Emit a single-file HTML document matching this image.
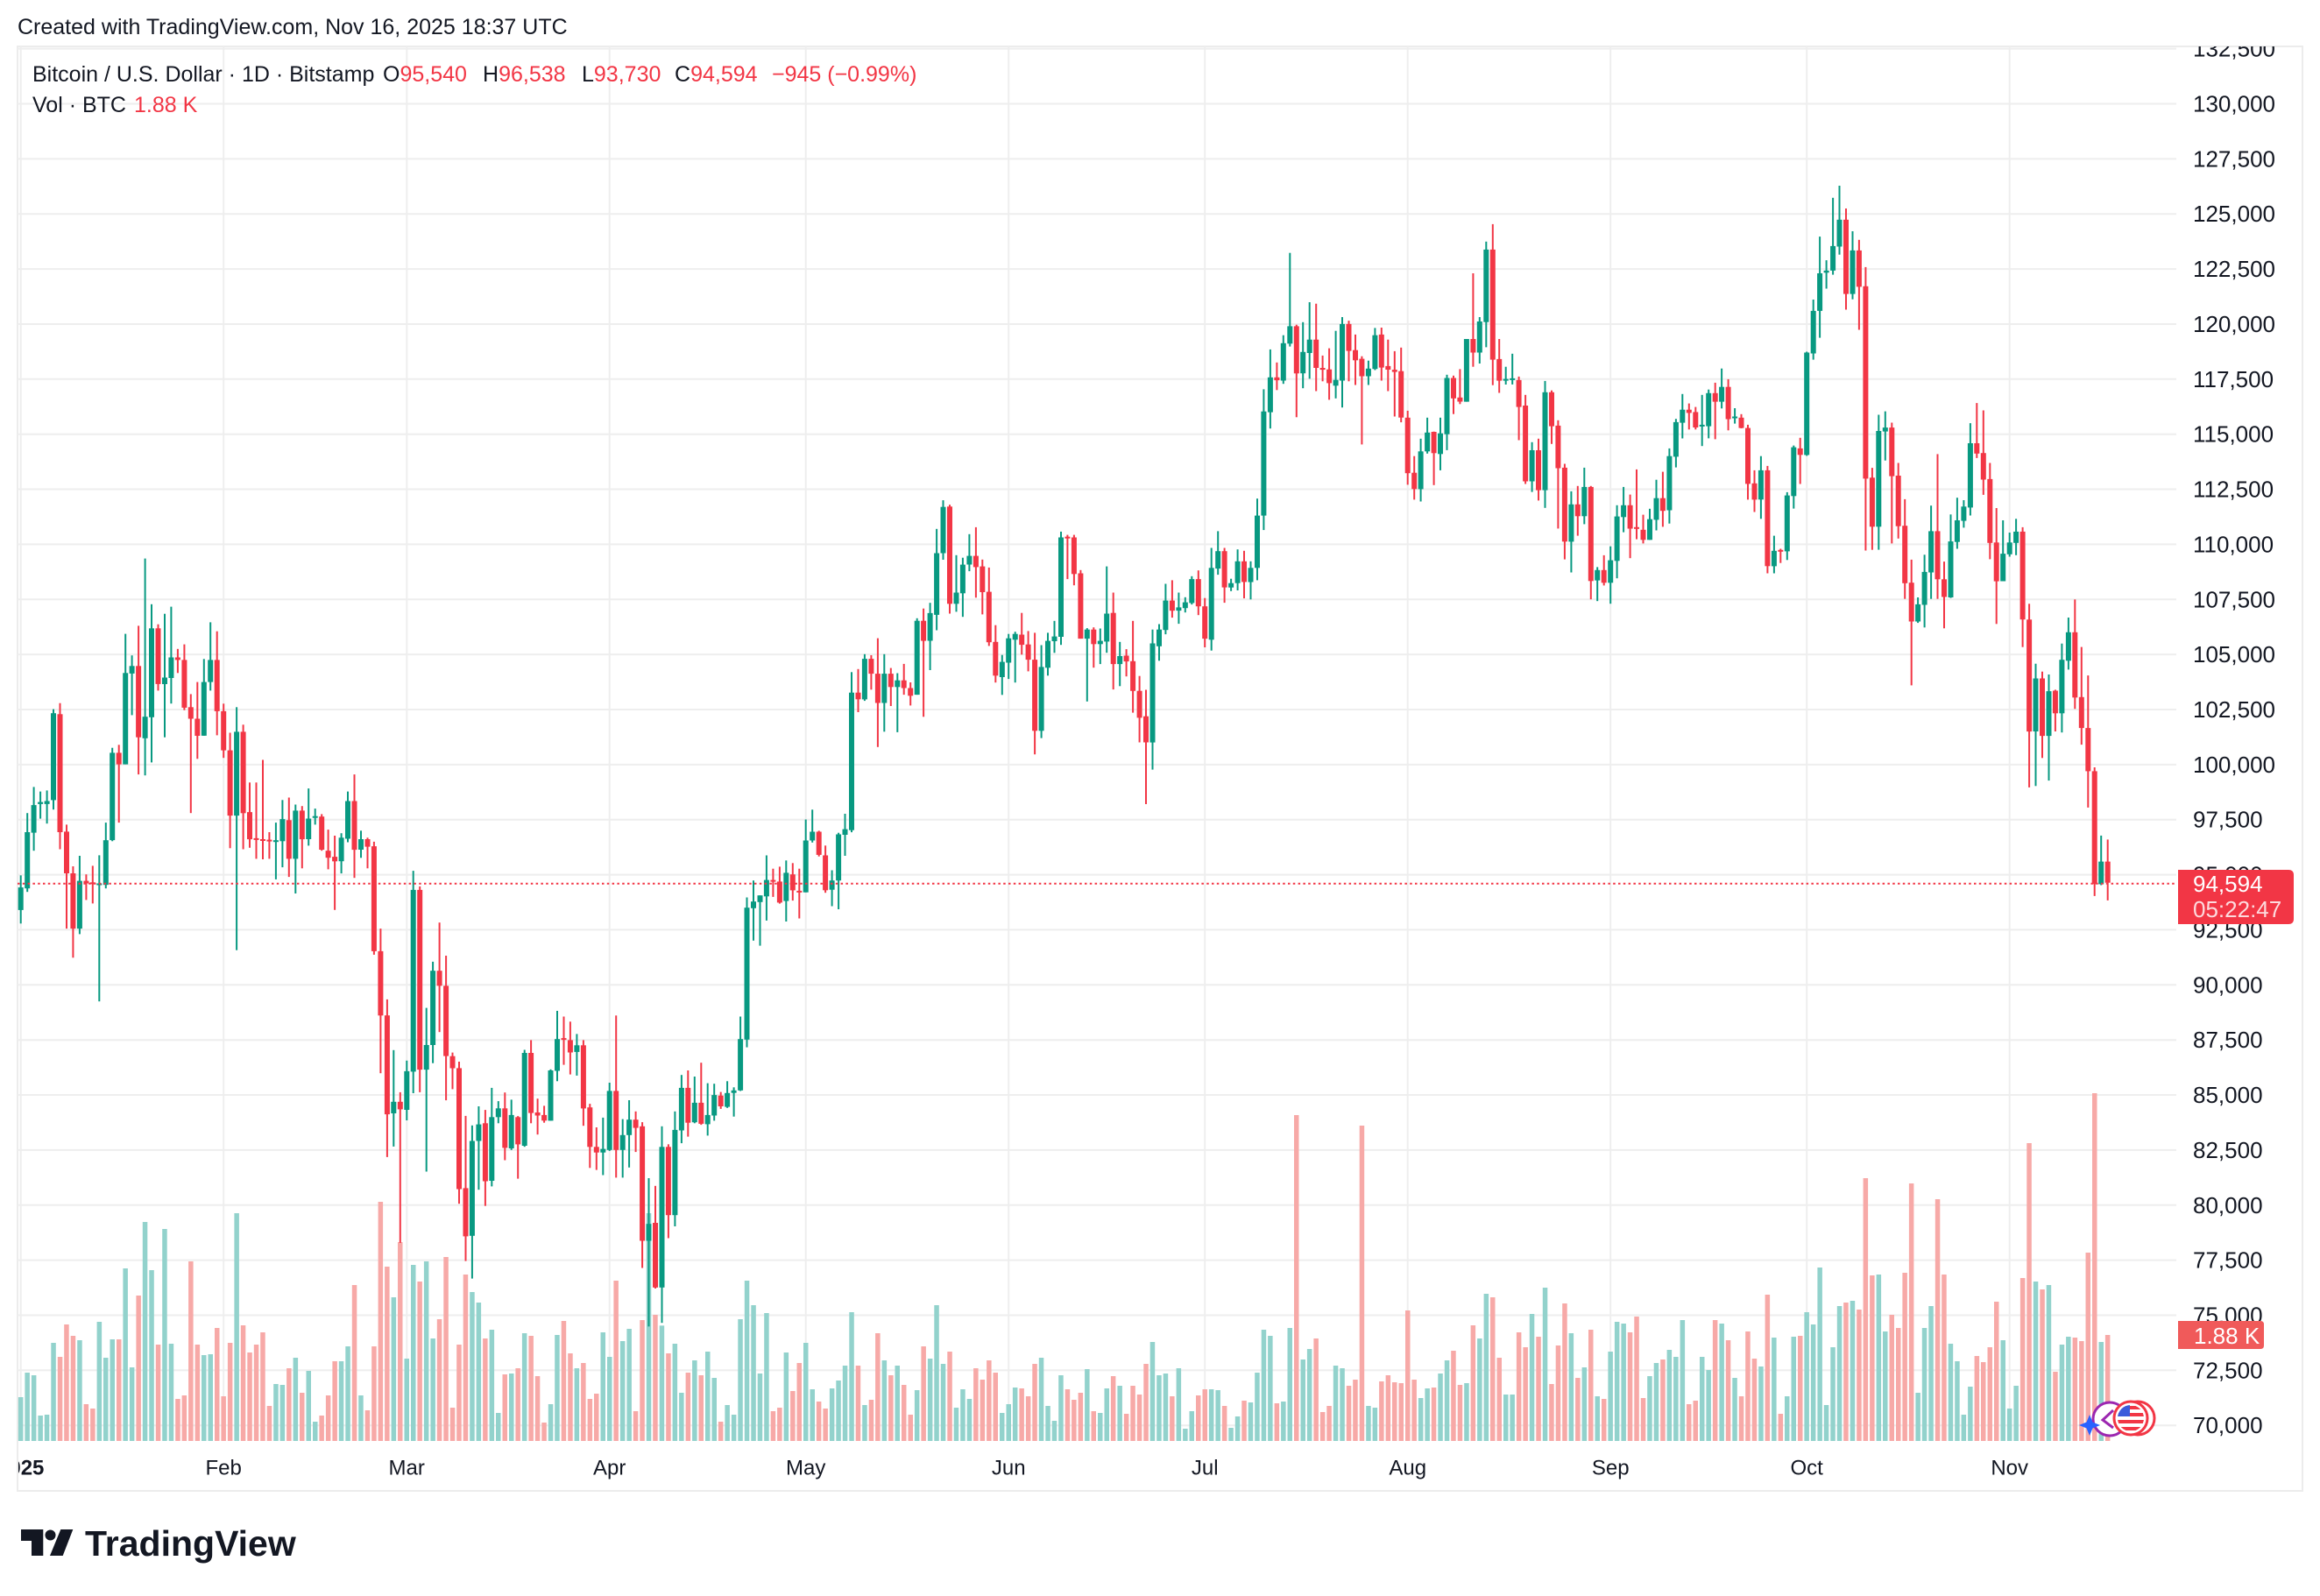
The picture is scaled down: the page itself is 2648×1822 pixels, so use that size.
<!DOCTYPE html>
<html><head><meta charset="utf-8">
<style>
html,body{margin:0;padding:0;background:#fff;}
svg{display:block;}
text{font-family:"Liberation Sans",Arial,sans-serif;}
</style></head><body>
<svg id="s" xmlns="http://www.w3.org/2000/svg" width="2648" height="1822" viewBox="0 0 2648 1822">
<defs>
<clipPath id="plot"><rect x="20" y="53" width="2464" height="1592"/></clipPath>
<clipPath id="frame"><rect x="21" y="53" width="2606" height="1648"/></clipPath>
<clipPath id="flagc"><circle cx="2432" cy="1619" r="15"/></clipPath>
</defs>
<rect width="2648" height="1822" fill="#fff"/>
<text x="20" y="31" font-size="25" fill="#131722" dominant-baseline="central">Created with TradingView.com, Nov 16, 2025 18:37 UTC</text>
<rect x="20" y="53" width="2608" height="1649" fill="none" stroke="#ececec" stroke-width="2"/>
<g id="grid" stroke="#eeeeee" stroke-width="2" clip-path="url(#plot)"></g>
<g clip-path="url(#plot)">
<g id="vol"></g>
<g id="cdl"></g>
<line x1="20" y1="1008.8" x2="2484" y2="1008.8" stroke="#f23645" stroke-width="2" stroke-dasharray="2.5 3.3"/>
</g>
<!-- price axis -->
<g clip-path="url(#frame)" font-size="26" fill="#131722">
<text x="2503" y="55.6" dominant-baseline="central">132,500</text>
<text x="2503" y="118.5" dominant-baseline="central">130,000</text>
<text x="2503" y="181.4" dominant-baseline="central">127,500</text>
<text x="2503" y="244.2" dominant-baseline="central">125,000</text>
<text x="2503" y="307.1" dominant-baseline="central">122,500</text>
<text x="2503" y="370" dominant-baseline="central">120,000</text>
<text x="2503" y="432.8" dominant-baseline="central">117,500</text>
<text x="2503" y="495.7" dominant-baseline="central">115,000</text>
<text x="2503" y="558.5" dominant-baseline="central">112,500</text>
<text x="2503" y="621.4" dominant-baseline="central">110,000</text>
<text x="2503" y="684.3" dominant-baseline="central">107,500</text>
<text x="2503" y="747.1" dominant-baseline="central">105,000</text>
<text x="2503" y="810" dominant-baseline="central">102,500</text>
<text x="2503" y="872.9" dominant-baseline="central">100,000</text>
<text x="2503" y="935.7" dominant-baseline="central">97,500</text>
<text x="2503" y="998.6" dominant-baseline="central">95,000</text>
<text x="2503" y="1061.4" dominant-baseline="central">92,500</text>
<text x="2503" y="1124.3" dominant-baseline="central">90,000</text>
<text x="2503" y="1187.2" dominant-baseline="central">87,500</text>
<text x="2503" y="1250" dominant-baseline="central">85,000</text>
<text x="2503" y="1312.9" dominant-baseline="central">82,500</text>
<text x="2503" y="1375.8" dominant-baseline="central">80,000</text>
<text x="2503" y="1438.6" dominant-baseline="central">77,500</text>
<text x="2503" y="1501.5" dominant-baseline="central">75,000</text>
<text x="2503" y="1564.3" dominant-baseline="central">72,500</text>
<text x="2503" y="1627.2" dominant-baseline="central">70,000</text>
</g>
<!-- current price label -->
<path d="M2486 993 H2612 Q2618 993 2618 999 V1049 Q2618 1055 2612 1055 H2486 Z" fill="#f23645"/>
<text x="2503" y="1009" font-size="26" fill="#fff" dominant-baseline="central">94,594</text>
<text x="2503" y="1038" font-size="26" fill="#fff" fill-opacity="0.82" dominant-baseline="central">05:22:47</text>
<!-- volume label -->
<path d="M2486 1508 H2580 Q2584 1508 2584 1512 V1536 Q2584 1540 2580 1540 H2486 Z" fill="#f05a5a"/>
<text x="2504" y="1525" font-size="26" fill="#fff" dominant-baseline="central">1.88 K</text>
<!-- time axis -->
<g font-size="24" fill="#131722" text-anchor="middle" clip-path="url(#frame)">
<text x="23.7" y="1676" font-weight="bold" dominant-baseline="central">2025</text>
<text x="255.2" y="1676" dominant-baseline="central">Feb</text>
<text x="464.2" y="1676" dominant-baseline="central">Mar</text>
<text x="695.7" y="1676" dominant-baseline="central">Apr</text>
<text x="919.7" y="1676" dominant-baseline="central">May</text>
<text x="1151.2" y="1676" dominant-baseline="central">Jun</text>
<text x="1375.2" y="1676" dominant-baseline="central">Jul</text>
<text x="1606.7" y="1676" dominant-baseline="central">Aug</text>
<text x="1838.2" y="1676" dominant-baseline="central">Sep</text>
<text x="2062.2" y="1676" dominant-baseline="central">Oct</text>
<text x="2293.7" y="1676" dominant-baseline="central">Nov</text>
</g>
<!-- legend -->
<text y="85" font-size="25" fill="#131722" dominant-baseline="central"><tspan x="37">Bitcoin / U.S. Dollar · 1D · Bitstamp</tspan><tspan x="437">O</tspan><tspan fill="#f23645">95,540</tspan><tspan x="551">H</tspan><tspan fill="#f23645">96,538</tspan><tspan x="664">L</tspan><tspan fill="#f23645">93,730</tspan><tspan x="770">C</tspan><tspan fill="#f23645">94,594</tspan><tspan x="881" fill="#f23645">−945 (−0.99%)</tspan></text>
<text y="120" font-size="25" fill="#131722" dominant-baseline="central"><tspan x="37">Vol · BTC</tspan><tspan x="153" fill="#f23645">1.88 K</tspan></text>
<!-- events icons -->
<g>
<circle cx="2408" cy="1620" r="19" fill="#fff" stroke="#9c27b0" stroke-width="3"/>
<path d="M2412 1610 L2400 1621 L2412 1630" fill="none" stroke="#9c27b0" stroke-width="3"/>
<circle cx="2440" cy="1619" r="19" fill="#fff" stroke="#f23645" stroke-width="3"/>
<circle cx="2432" cy="1619" r="19" fill="#fff" stroke="#f23645" stroke-width="3"/>
<g clip-path="url(#flagc)">
<rect x="2415" y="1602" width="34" height="34" fill="#fff"/>
<rect x="2415" y="1605" width="34" height="4" fill="#f23645"/>
<rect x="2415" y="1613" width="34" height="4" fill="#f23645"/>
<rect x="2415" y="1621" width="34" height="4" fill="#f23645"/>
<rect x="2415" y="1629" width="34" height="4" fill="#f23645"/>
<rect x="2415" y="1602" width="16" height="15" fill="#3b5bdb"/>
</g>
<path d="M2385 1615 L2388.5 1623.5 L2397 1627 L2388.5 1630.5 L2385 1639 L2381.5 1630.5 L2373 1627 L2381.5 1623.5Z" fill="#2962ff"/>
</g>
<!-- logo -->
<g fill="#131722">
<path d="M24 1746 H49.3 V1776 H36 V1759 H24 Z"/>
<circle cx="57.5" cy="1752.5" r="6"/>
<path d="M69.3 1746 H83.3 L71.7 1776 H57 Z"/>
<text x="97" y="1776" font-size="41" font-weight="bold" fill="#131722">TradingView</text>
</g>
</svg>
<script>
(function(){
var X0=23.7,DX=7.467;
function py(p){return 118.5+(130000-p)*0.025145;}
var S=[
{d:0,a:618.7,b:0.5732,c:[
[1,688,733,664,760],[1,578,690,540,697],[1,524,579,488,615],[1,518,522,497,551],[1,516,522,495,561],
[1,341,514,333,533],[0,343,578,321,612],[0,577,660,563,770],[0,660,770,646,828],[1,675,770,625,781],
[0,675,680,662,713],[0,678,681,645,720],[1,680,683,624,915],[1,594,683,559,690],[1,420,594,410,596],
[0,420,443,404,559],[1,261,443,183,443],[1,247,262,226,345],[0,247,389,167,463],[1,348,391,33,465],
[1,172,349,124,439],[0,172,283,164,296],[1,270,283,143,389],[1,230,271,129,322],[0,230,235,213,261],
[0,235,330,204,335],[0,329,352,303,540],[0,352,386,279,432],[1,279,386,233,386],[1,235,279,160,296],
[0,235,337,178,385],[0,337,415,322,430],[0,415,545,380,610],[1,378,545,329,813],[0,378,540,364,612],
[0,538,592,479,609],[0,590,592,479,631],[0,592,594,434,632],[0,593,595,578,631],[1,594,597,559,672],
[1,552,596,514,648],[0,554,631,509,667],[1,535,631,523,700],[0,535,592,526,650],[1,551,592,491,605],
[1,546,549,531,563],[0,547,613,542,615],[0,615,629,573,652],[0,627,636,585,733],[1,589,636,580,660],
[1,516,591,497,598],[0,516,613,463,669],[1,592,613,575,629],[0,592,607,589,650],[0,606,815,597,822],
[0,815,943,770,1058],[0,943,1140,911,1225],[1,1115,1138,1012,1204],[0,1115,1130,1096,1396],[1,1054,1131,1033,1152],
[1,693,1055,655,1098],[0,693,1051,686,1096],[1,1002,1051,928,1254],[1,854,1002,836,1038],[0,854,884,758,976],
[0,884,1024,824,1112],[0,1024,1048,1017,1090],[0,1048,1289,1035,1318],[0,1287,1383,1143,1432],[1,1193,1382,1162,1467],
[1,1160,1193,1124,1290]]},
{d:71,a:639.0,b:0.5859,c:[
[0,1098,1211,1072,1259],[1,1086,1210,1029,1221],[1,1069,1086,1055,1098],[0,1069,1146,1038,1170],[1,1082,1147,1052,1150],
[0,1086,1139,1084,1206],[1,961,1142,955,1144],[0,961,1078,936,1098],[0,1077,1083,1050,1120],[0,1082,1093,1064,1097],
[1,995,1093,993,1093],[1,934,996,879,1016],[0,932,935,890,984],[0,936,960,900,1003],[1,946,959,924,1005],
[0,946,1069,936,1103],[0,1067,1144,1060,1185],[0,1144,1155,1106,1189],[1,1148,1155,1087,1199],[1,1035,1150,1019,1152],
[0,1035,1150,888,1204],[1,1121,1150,1090,1204],[1,1091,1121,1053,1184],[0,1091,1107,1075,1154],[0,1104,1327,1096,1380],
[1,1294,1327,1205,1494],[0,1292,1418,1220,1420],[1,1144,1418,1104,1487],[0,1144,1277,1139,1322],[1,1111,1277,1075,1299],
[1,1029,1112,1004,1137],[0,1029,1097,995,1124],[1,1058,1096,1007,1098],[0,1058,1099,980,1101],[1,1082,1100,1020,1122],
[1,1043,1083,1021,1093],[0,1044,1065,1037,1070],[1,1039,1066,1016,1068],[1,1034,1039,1028,1085],[1,934,1034,890,1035],
[1,678,935,658,950],[1,666,679,625,742],[1,654,667,654,752],[1,624,656,576,703],[0,624,627,602,657],
[0,627,668,598,670],[1,610,665,586,705],[0,613,644,591,664],[0,645,648,602,699],[1,547,648,506,648],
[1,530,547,487,551],[0,530,575,528,578],[0,576,644,557,649],[1,625,643,605,675],[1,535,625,532,681],
[1,525,536,495,577],[1,259,527,219,531],[0,259,272,213,297],[1,193,272,184,275],[0,193,222,186,253],
[0,222,279,153,365],[1,222,279,184,335],[0,222,248,211,285],[1,235,248,221,336],[0,235,250,203,263],
[0,250,265,239,284],[1,119,263,114,263],[0,119,158,95,306],[1,104,158,84,215]]},
{d:140,a:3387.35,b:-25.145,c:[
[1,109.6,106.8,110.7,106.1],[1,111.7,109.6,112.0,109.3]]},
{d:142,a:248.9,b:0.4143,c:[
[0,795,1063,790,1090],[1,1032,1063,929,1085],[1,955,1034,936,1099],[1,931,955,871,973],[0,931,962,852,1046],
[0,960,1031,941,1092],[0,1030,1169,963,1179],[0,1168,1261,1122,1280],[1,1223,1265,1204,1314],[1,1158,1225,1146,1270],
[1,1146,1162,1140,1280],[0,1148,1176,1088,1203],[0,1175,1217,1138,1249],[0,1217,1413,1143,1478],[1,1237,1413,1177,1433],
[1,1165,1239,1143,1261],[1,1153,1166,1110,1198],[1,880,1154,864,1176],[0,878,882,873,995],[0,880,981,873,1012],
[0,979,1159,970,1159],[1,1134,1159,1130,1332],[0,1134,1174,1128,1239],[1,1165,1174,1131,1229],[1,1090,1167,960,1198],
[0,1088,1229,1032,1299],[1,1207,1229,1168,1290],[0,1206,1222,1188,1263],[0,1221,1303,1110,1363],[0,1303,1377,1262,1445],
[0,1373,1445,1300,1615],[1,1172,1445,1134,1520],[1,1134,1180,1119,1220],[1,1054,1135,1008,1147],[0,1054,1082,998,1101],
[1,1073,1082,1032,1118],[1,1059,1075,1045,1087],[1,995,1061,987,1065],[0,995,1070,971,1094],[0,1070,1159,1047,1183],
[1,964,1162,909,1192],[1,918,966,863,983],[0,918,1018,909,1060],[1,1006,1018,994,1028],[1,946,1006,913,1026],
[0,946,1003,917,1048],[1,964,1003,946,1051],[1,820,964,773,998],[1,533,820,472,860],[1,439,535,362,580],
[0,439,447,398,474],[1,345,448,323,457],[1,298,346,96,354],[0,298,428,294,549],[1,369,428,287,469],
[1,335,372,232,443],[0,335,413,236,477],[0,413,418,379,450],[0,417,455,359,501],[1,446,462,311,497],
[1,292,448,273,522],[0,292,366,283,450],[0,364,392,321,460],[0,388,436,381,624],[1,415,436,393,460],
[1,323,416,303,419],[0,321,412,302,448],[0,408,418,335,477],[0,418,424,367,547],[0,422,550,357,563],
[0,550,703,531,735],[0,702,747,656,776],[1,643,747,608,781],[1,591,643,550,649]]},
{d:216,a:189.0,b:0.3378,c:[
[0,900,972,899,1080],[1,905,975,852,1030],[1,718,908,707,962],[0,718,787,710,840],[0,784,798,688,806],
[1,586,798,586,798],[0,586,632,364,680],[1,527,632,512,669],[1,284,529,257,614],[0,284,656,198,742],
[0,654,727,586,768],[1,721,725,680,740],[1,719,723,636,740],[0,725,816,713,928],[0,811,1067,775,1076],
[1,962,1067,935,1103],[0,962,1097,923,1132],[1,766,1097,728,1157],[0,766,881,760,941],[0,879,1023,861,1227],
[0,1021,1271,1008,1331],[1,1145,1271,1101,1375],[0,1145,1185,1083,1251],[1,1086,1185,1021,1212],[0,1086,1404,1083,1466],
[1,1367,1402,1357,1472],[0,1367,1410,1317,1419],[1,1334,1410,1287,1481],[1,1186,1336,1148,1395],[1,1148,1188,1086,1239],
[0,1148,1227,1112,1327],[0,1222,1227,1027,1263],[0,1231,1265,1180,1277],[1,1195,1265,1160,1265],[1,1124,1197,1062,1233],
[0,1124,1167,1035,1221],[1,982,1165,956,1210],[1,867,984,856,1020],[1,825,869,772,922],[0,825,836,804,892],
[0,833,885,816,892],[1,876,881,775,948],[1,769,881,757,922],[0,769,798,734,925],[1,748,798,686,821],
[0,748,857,722,895],[1,848,853,820,872],[0,852,887,840,888],[0,887,1076,876,1129],[0,1074,1129,1030,1171],
[1,1030,1129,982,1194],[0,1030,1354,1015,1378],[1,1302,1354,1251,1378],[0,1299,1304,1295,1343],[1,1115,1304,1104,1333],
[1,952,1117,946,1159],[0,956,978,920,1076],[1,632,978,629,981],[1,491,635,453,656],[1,364,491,240,582],
[1,355,362,320,416],[1,272,355,109,369],[1,183,274,68,301],[0,183,434,145,487],[1,287,434,222,452],
[0,287,410,251,555],[0,408,1058,343,1301]]},
{d:283,a:178.7,b:0.5605,c:[
[0,654,754,634,801],[1,559,754,526,801],[1,552,560,519,619],[0,552,651,542,788],[0,650,753,624,778],
[0,752,869,698,901],[0,868,947,821,1077],[1,912,947,898,950],[1,846,913,811,959],[1,763,847,711,901],
[0,763,861,606,901],[0,861,897,825,961],[1,784,898,729,899],[1,741,785,695,799],[1,713,742,700,756],
[1,584,715,543,731],[0,584,605,502,614],[0,604,658,517,689],[0,657,787,624,820],[0,786,865,716,952],
[1,809,865,741,865],[1,786,810,766,815],[1,764,787,738,812],[0,764,943,755,999],[0,943,1171,911,1285],
[1,1063,1171,1033,1282],[0,1063,1180,1049,1225],[1,1089,1180,1055,1271],[0,1088,1134,1086,1171],[1,1025,1134,992,1173],
[1,969,1027,939,1045],[0,969,1102,902,1125],[0,1101,1164,999,1198],[0,1164,1252,1057,1326],[0,1252,1482,1244,1506],
[1,1436,1482,1383,1484],[0,1436,1479,1391,1515]]}
];
var V=[1065,981,990,1128,1125,879,927,816,855,870,
1089,1104,807,930,867,867,624,963,717,465,
630,885,489,882,1071,1059,600,885,921,918,
828,1062,879,435,819,912,885,843,1095,1020,
1023,966,930,1050,975,1149,1128,1059,942,942,
891,681,1059,1110,891,396,618,723,534,933,
612,669,600,864,798,585,1101,885,645,705,
741,864,834,1119,987,984,966,846,855,993,
1152,1089,852,804,915,966,948,1071,1053,843,
927,666,873,831,1113,801,435,783,820,915,
882,1050,981,939,990,909,999,1149,1092,1125,
798,666,750,984,777,1113,1101,912,1044,948,
879,1038,1080,1104,1035,1008,957,774,957,1092,
1074,846,939,990,957,1023,1125,1041,891,933,
750,951,909,1101,1038,1071,966,1005,939,981,
1119,1089,1032,1035,1062,951,930,1095,1146,990,
1038,1074,1050,969,1113,1119,1035,993,1026,1122,
1026,1056,951,876,990,984,1062,966,1173,1113,
1059,1038,1038,1041,1095,1170,1131,1077,1083,981,
834,855,1086,1080,828,99,936,900,864,1116,
1095,957,966,1026,1005,135,1095,1101,1011,990,
1014,1017,768,1005,1068,1035,1032,984,939,906,
1023,1017,819,864,711,723,930,1056,1056,843,
894,780,858,690,1020,888,744,846,999,963,
834,1062,1071,909,807,813,843,789,1068,993,
948,936,903,927,801,1089,1077,927,972,801,
813,870,999,1062,840,933,960,714,861,1122,
1062,858,855,774,816,621,1092,894,753,741,
735,765,315,648,645,840,783,828,639,333,
1050,828,753,387,645,882,942,1125,1029,924,
945,894,738,870,1104,1026,657,195,669,696,
681,978,885,858,861,873,570,24,876,852];
var g='',p,y,i;
for(p=132500;p>=70000;p-=2500){y=py(p).toFixed(1);g+='<line x1="20" y1="'+y+'" x2="2484" y2="'+y+'"/>';}
var M=[0,31,59,90,120,151,181,212,243,273,304];
for(i=0;i<M.length;i++){var mx=(X0+M[i]*DX).toFixed(1);g+='<line x1="'+mx+'" y1="53" x2="'+mx+'" y2="1645"/>';}
document.getElementById('grid').innerHTML=g;
var ch='',vh='',col=[];
S.forEach(function(s){s.c.forEach(function(k,j){
 var d=s.d+j,x=X0+d*DX;
 function Y(v){return s.a+s.b*v;}
 var y1=Y(k[1]),y2=Y(k[2]),w1=Y(k[3]),w2=Y(k[4]);
 var bt=Math.min(y1,y2),bb=Math.max(y1,y2),wt=Math.min(w1,w2,bt),wb=Math.max(w1,w2,bb);
 var c=k[0]?'#089981':'#f23645';col[d]=k[0];
 ch+='<rect x="'+(x-1).toFixed(1)+'" y="'+wt.toFixed(1)+'" width="2" height="'+(wb-wt).toFixed(1)+'" fill="'+c+'"/>';
 ch+='<rect x="'+(x-3).toFixed(1)+'" y="'+bt.toFixed(1)+'" width="6" height="'+Math.max(bb-bt,2).toFixed(1)+'" fill="'+c+'"/>';
});});
V.forEach(function(v,d){var x=X0+d*DX,t=1240+v/3;
 vh+='<rect x="'+(x-2.75).toFixed(1)+'" y="'+t.toFixed(1)+'" width="5.5" height="'+(1645-t).toFixed(1)+'" fill="'+(col[d]?'#92d2cc':'#f7a9a7')+'"/>';});
document.getElementById('vol').innerHTML=vh;
document.getElementById('cdl').innerHTML=ch;
})();
</script>
</body></html>
